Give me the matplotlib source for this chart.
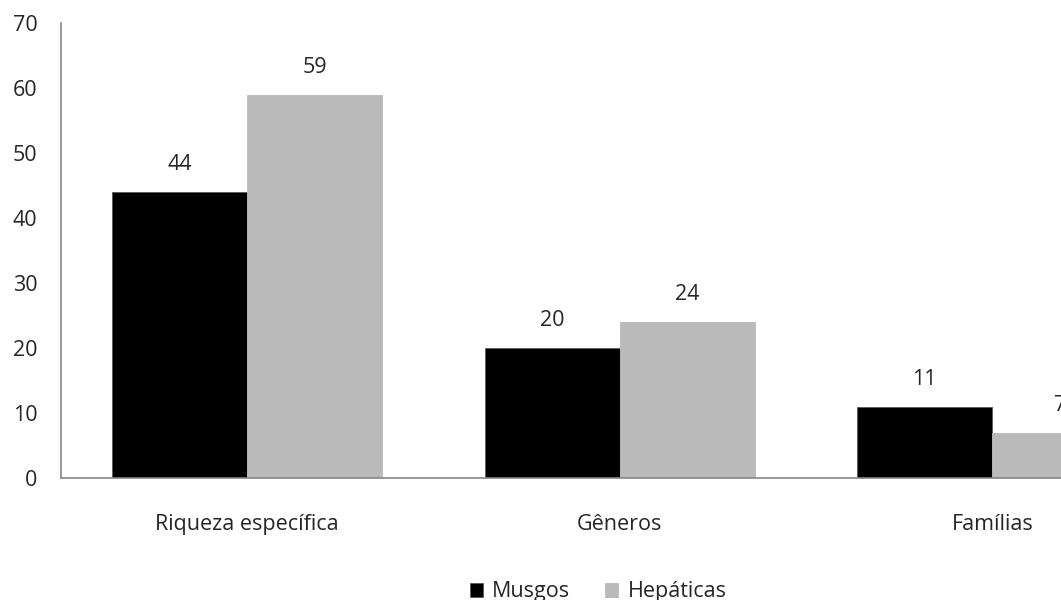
import numpy as np
import matplotlib
matplotlib.use("Agg")
import matplotlib.pyplot as plt

# dados
categorias = ["Riqueza específica", "Gêneros", "Famílias"]
musgos = [44, 20, 11]
hepaticas = [59, 24, 7]
series = ["Musgos", "Hepáticas"]
yticks = [0, 10, 20, 30, 40, 50, 60, 70]

plt.rcParams["font.family"] = ["Open Sans", "DejaVu Sans"]
cor_eixo = "#868686"
cor_texto = "#262626"
fs = 15.5

fig = plt.figure(figsize=(10.61, 6.0), dpi=100)
# o eixo continua além da borda direita da figura
ax = fig.add_axes([61 / 1061, 122 / 600, 1117.5 / 1061, 455 / 600])

x = np.arange(len(categorias))
w = 0.3625
b1 = ax.bar(x - w / 2, musgos, w, color="black", edgecolor="#595959",
            linewidth=0.6, label=series[0], zorder=2)
b2 = ax.bar(x + w / 2, hepaticas, w, color="#bababa", edgecolor="#bababa",
            linewidth=0.6, label=series[1], zorder=2)

# rótulos de valor acima das barras
for bars, vals in [(b1, musgos), (b2, hepaticas)]:
    for r, v in zip(bars, vals):
        ax.annotate(str(v), (r.get_x() + r.get_width() / 2, v),
                    xytext=(0, 19.5), textcoords="offset points",
                    ha="center", va="center", fontsize=fs, color=cor_texto)

ax.set_xlim(-0.5, 2.5)
ax.set_ylim(0, 70)
ax.set_yticks(yticks)
ax.set_xticks(x)
ax.set_xticklabels(categorias)

for s in ["top", "right"]:
    ax.spines[s].set_visible(False)
for s in ["left", "bottom"]:
    ax.spines[s].set_color(cor_eixo)
    ax.spines[s].set_linewidth(1.2)

ax.tick_params(axis="y", length=0, pad=17, labelsize=fs, labelcolor=cor_texto)
ax.tick_params(axis="x", length=0, pad=26, labelsize=fs, labelcolor=cor_texto)

fig.legend(loc="center", bbox_to_anchor=(598 / 1061, 1 - 592 / 600), ncol=2,
           frameon=False, fontsize=fs, handlelength=0.6, handleheight=0.6,
           handletextpad=0.45, columnspacing=1.6, labelcolor=cor_texto)

fig.savefig("out.png", dpi=100)
